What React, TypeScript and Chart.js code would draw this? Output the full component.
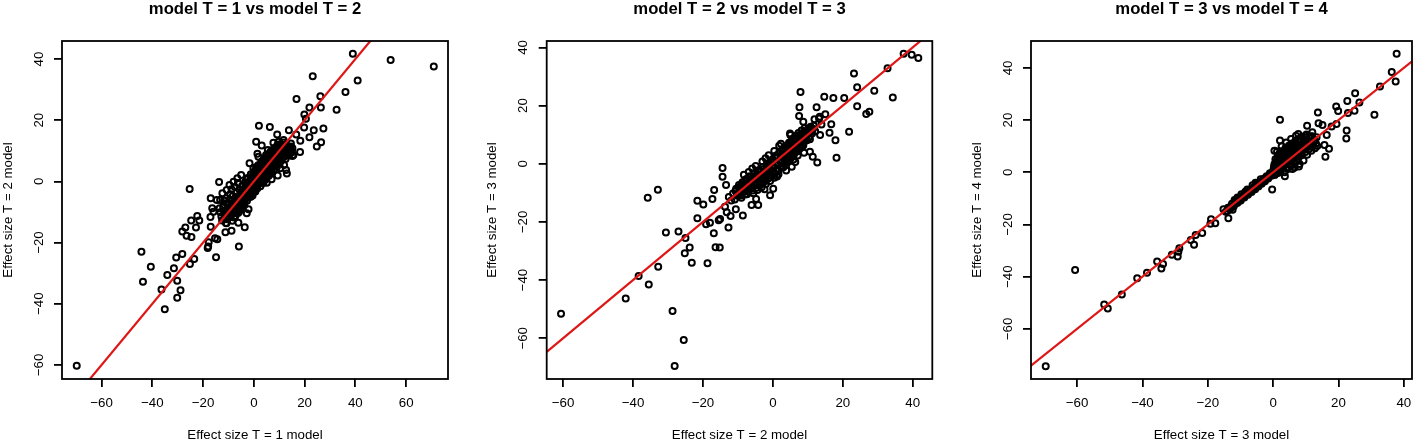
import React, { useEffect, useRef } from 'react';
import { Chart, registerables } from 'chart.js';

Chart.register(...registerables);

const FONT = '"Liberation Sans", Arial, Helvetica, sans-serif';
const RED = 'rgb(222, 22, 22)';

// ---------- Panel 1: T = 1 (x) vs T = 2 (y) ----------
const P1_POINTS: [number, number][] = [
  [-69.8, -60.3], [39.0, 41.7], [53.9, 39.7], [70.9, 37.6], [23.2, 34.4], [40.9, 33.0], [36.1, 29.2],
  [26.2, 27.8], [16.8, 26.9], [21.9, 24.2], [26.4, 24.2], [32.6, 23.4], [19.9, 21.9], [20.5, 20.5],
  [2.0, 18.2], [6.3, 17.8], [19.8, 17.6], [27.4, 17.3], [13.8, 16.7], [23.6, 16.7], [9.2, 15.3],
  [16.7, 15.3], [21.9, 14.4], [18.3, 13.3], [26.5, 12.8], [0.9, 13.0], [24.8, 11.4], [18.2, 9.6],
  [15.6, 8.6], [1.4, 9.0], [13.0, 2.6], [-13.7, -0.2], [-25.3, -2.5], [-17.0, -5.5], [-14.6, -6.1],
  [-16.4, -8.8], [-15.9, -9.9], [-22.3, -11.3], [-24.7, -12.8], [-21.5, -12.8], [-17.1, -11.6],
  [-27.0, -15.1], [-22.8, -15.1], [-28.2, -16.4], [-26.5, -17.8], [-24.6, -18.2], [-17.0, -14.8],
  [-15.3, -18.6], [-14.4, -18.9], [-17.8, -19.9], [-18.0, -21.3], [-5.9, -21.3], [-8.8, -16.1],
  [-11.2, -16.6], [-3.6, -15.0], [-6.1, -13.5], [-2.8, -10.4], [-10.8, -13.7], [-44.3, -23.0],
  [-43.7, -32.8], [-40.6, -27.9], [-36.4, -35.3], [-35.1, -41.8], [-34.1, -30.6], [-31.5, -28.4],
  [-30.6, -24.9], [-30.2, -32.5], [-30.2, -38.0], [-28.9, -35.6], [-28.2, -23.7], [-25.2, -27.0],
  [-23.5, -25.4], [-14.9, -24.8], [-18.2, -21.8],
  [3.1, 11.7], [5.5, 10.3], [7.7, 12.6], [9.7, 13.0], [11.7, 13.5], [14.6, 11.4], [15.2, 8.3],
  [12.7, 3.7], [9.4, 1.9], [5.1, -0.4], [2.5, 1.6], [-5.0, 2.1], [-6.5, 1.0], [-8.0, -0.1],
  [-9.6, -1.2], [-10.7, -2.8], [-12.4, -3.9], [-13.3, -6.1], [-10.0, -7.1], [-8.0, -8.3],
  [-7.0, -10.4], [-5.4, -9.1], [-2.1, -9.1], [-3.7, -6.8], [-1.2, -5.0], [-0.2, -3.4], [1.1, -1.7],
  [3.8, -0.4], [7.0, 0.7], [6.4, 3.7], [4.4, 5.4], [-0.2, 4.3], [-1.7, 5.9], [1.8, 8.1], [4.8, 8.6],
  [8.0, 9.0], [11.0, 8.1], [8.4, 6.4], [11.9, 5.4], [10.4, 4.3], [14.0, 9.7], [13.0, 11.4], [15.2, 10.8],
  [-13.2, -10.1], [-12.5, -12.8], [-12.1, -8.4], [-11.6, -10.9], [-11.0, -13.6], [-10.7, -7.2],
  [-10.3, -9.5], [-9.8, -11.8], [-9.6, -6.1], [-9.2, -8.3], [-8.9, -10.6], [-8.5, -12.9], [-8.3, -4.8],
  [-8.0, -7.0], [-7.6, -9.2], [-7.3, -11.4], [-7.1, -5.6], [-6.8, -3.5], [-6.5, -8.1], [-6.2, -10.3],
  [-6.0, -6.4], [-5.7, -2.7], [-5.4, -4.6], [-5.1, -8.9], [-4.9, -6.9], [-4.6, -1.4], [-4.3, -3.6],
  [-4.1, -5.5], [-3.8, -7.8], [-3.5, -0.3], [-3.3, -2.4], [-3.0, -4.5], [-2.7, -6.3], [-2.5, 1.1],
  [-2.2, -1.2], [-2.0, -3.3], [-1.7, -5.1], [-1.4, 0.4], [-1.2, 2.3], [-0.9, -1.9], [-0.6, -3.9],
  [-0.4, 1.5], [-0.1, -0.6], [0.2, 3.2], [0.4, -2.4], [0.7, 0.8], [0.9, 4.6], [1.2, -1.1], [1.5, 2.0],
  [1.7, 5.3], [2.0, 0.1], [2.3, 3.4], [2.6, -1.6], [2.8, 6.1], [3.1, 1.5], [3.4, 4.3], [3.6, -0.4],
  [3.9, 7.2], [4.2, 2.6], [4.4, 5.4], [4.7, 0.7], [5.0, 8.0], [5.2, 3.5], [5.5, 6.3], [5.8, 1.8],
  [6.1, 9.1], [6.3, 4.6], [6.6, 7.4], [6.9, 2.9], [7.2, 10.2], [7.4, 5.7], [7.7, 8.3], [8.0, 3.9],
  [8.3, 11.0], [8.5, 6.6], [8.8, 9.3], [9.1, 4.8], [9.4, 12.1], [9.6, 7.7], [9.9, 10.4], [10.2, 5.9],
  [10.5, 8.8], [10.8, 11.6], [11.0, 6.9], [11.3, 9.8], [11.6, 12.7], [11.9, 8.1], [12.2, 10.9],
  [12.5, 7.3], [12.8, 12.0], [13.1, 9.4], [13.4, 11.3], [13.8, 8.5], [14.2, 10.6], [14.6, 12.4],
  [15.0, 9.7], [-0.5, 0.9], [0.3, -0.2], [1.0, 1.7], [-1.8, -2.1], [2.5, 2.2], [-3.6, -3.1], [4.0, 3.7],
  [5.6, 5.1], [-5.6, -5.2], [6.9, 6.2], [-7.7, -7.9], [8.2, 7.5], [-9.0, -9.2], [9.7, 9.0], [11.2, 10.5],
  [-10.8, -11.3], [-2.9, 0.6], [3.3, 0.2],
  [-11.8, -9.6], [-11.2, -11.9], [-10.4, -12.4], [-9.9, -8.6], [-9.4, -10.2], [-8.7, -7.7], [-8.2, -9.6],
  [-7.8, -11.8], [-7.4, -6.3], [-6.9, -9.4], [-6.4, -5.1], [-6.1, -7.2], [-5.8, -9.9], [-5.3, -6.0],
  [-5.0, -3.6], [-4.7, -8.0], [-4.4, -4.9], [-4.0, -2.5], [-3.7, -5.9], [-3.4, -3.9], [-3.1, -1.5],
  [-2.8, -5.4], [-2.4, -3.0], [-2.1, -0.4], [-1.9, -4.3], [-1.5, -1.2], [-1.1, -2.8], [-0.8, 0.3],
  [-0.5, -4.6], [-0.3, 2.7], [0.0, -1.4], [0.3, 1.9], [0.6, -3.3], [0.8, 3.8], [1.1, 0.4], [1.4, -2.2],
  [1.6, 4.3], [1.9, 1.1], [2.2, -0.6], [2.4, 5.2], [2.7, 2.9], [3.0, 0.8], [3.2, 6.6], [3.5, 3.1],
  [3.8, 1.0], [4.1, 5.9], [4.3, 3.3], [4.6, 7.6], [4.9, 1.9], [5.1, 6.8], [5.4, 4.3], [5.7, 8.7],
  [6.0, 2.6], [6.2, 5.6], [6.5, 9.7], [6.8, 4.0], [7.1, 6.8], [7.3, 8.8], [7.6, 4.6], [7.9, 10.6],
  [8.1, 7.0], [8.4, 9.9], [8.7, 5.4], [9.0, 11.4], [9.3, 8.4], [9.5, 6.2], [9.8, 11.5], [10.1, 7.3],
  [10.4, 9.7], [10.7, 12.2], [10.9, 8.0], [11.4, 10.8], [11.8, 9.1], [12.0, 11.8], [12.4, 9.9],
  [12.9, 10.5], [13.5, 10.1], [14.0, 11.2], [14.4, 9.2], [-12.8, -11.5], [-13.5, -8.8], [-10.9, -5.5],
  [-9.3, -4.2], [-8.8, -2.6], [-7.5, -1.8], [-6.3, -0.5], [-11.7, -6.3],
];
const P1_X_LIMITS = [-75.6, 76.5];
const P1_Y_LIMITS = [-64.6, 45.9];
const P1_X_TICKS = [-60, -40, -20, 0, 20, 40, 60];
const P1_Y_TICKS = [-60, -40, -20, 0, 20, 40];

// ---------- Panel 2: T = 2 (x) vs T = 3 (y) ----------
const P2_POINTS: [number, number][] = [
  [-60.6, -51.6], [37.4, 37.8], [39.7, 37.5], [41.6, 36.4], [32.8, 32.8], [23.2, 31.0], [24.1, 26.3],
  [29.0, 25.1], [34.3, 22.8], [20.4, 22.6], [14.7, 23.0], [17.3, 22.6], [7.9, 24.7], [24.1, 19.8],
  [26.7, 17.1], [27.6, 17.9], [21.8, 11.0], [7.6, 19.4], [12.5, 19.4], [7.5, 16.4], [15.0, 17.0],
  [13.4, 16.2], [16.7, 13.6], [16.2, 10.7], [17.9, 8.1], [18.2, 2.1], [12.7, 0.4], [11.4, 2.4],
  [13.5, 9.9], [10.6, 4.1], [-14.4, -1.5], [-14.4, -4.5], [-32.9, -8.9], [-35.8, -11.7], [-16.8, -9.0],
  [-13.4, -7.3], [-21.6, -12.7], [-19.9, -14.0], [-17.3, -12.1], [-21.6, -18.7], [-19.1, -20.8],
  [-18.0, -20.3], [-15.5, -19.4], [-15.1, -19.0], [-13.7, -14.8], [-13.2, -16.7], [-10.6, -15.6],
  [-12.1, -18.0], [-8.6, -17.8], [-12.7, -21.9], [-30.6, -23.6], [-27.0, -23.3], [-25.0, -25.5],
  [-23.8, -28.8], [-25.2, -30.8], [-23.2, -34.0], [-16.9, -23.9], [-16.4, -28.7], [-15.2, -28.8],
  [-18.7, -34.2], [-32.8, -35.4], [-38.4, -38.6], [-35.5, -41.5], [-42.1, -46.3], [-28.7, -50.6],
  [-25.5, -60.6], [-28.1, -69.5], [-6.1, -14.2], [-4.2, -14.2], [-4.8, -12.1], [-0.8, -10.8],
  [0.1, -8.6], [-2.4, -8.8], [7.9, 9.1], [4.9, 10.4], [8.7, 14.4], [10.1, 12.1], [11.9, 15.3],
  [13.9, 13.5], [13.2, 15.6], [8.2, 5.8], [9.7, 8.1], [5.4, -1.0],
  [-11.4, -10.2], [-10.9, -12.3], [-10.5, -8.6], [-10.1, -11.0], [-9.7, -7.3], [-9.4, -9.6],
  [-9.0, -11.7], [-8.7, -6.4], [-8.3, -8.5], [-8.0, -10.6], [-7.6, -5.2], [-7.3, -7.4], [-7.0, -9.5],
  [-6.6, -4.3], [-6.3, -6.5], [-6.0, -8.4], [-5.6, -10.1], [-5.3, -3.2], [-5.0, -5.4], [-4.7, -7.3],
  [-4.4, -9.0], [-4.1, -2.2], [-3.8, -4.3], [-3.5, -6.2], [-3.2, -8.1], [-2.9, -1.1], [-2.6, -3.1],
  [-2.3, -5.2], [-2.0, -7.0], [-1.7, 0.1], [-1.4, -2.0], [-1.1, -4.1], [-0.8, -5.9], [-0.5, 1.2],
  [-0.2, -0.9], [0.1, -3.0], [0.4, -4.8], [0.7, 2.4], [1.0, 0.3], [1.3, -1.8], [1.6, -3.6], [1.9, 3.5],
  [2.2, 1.4], [2.5, -0.6], [2.8, 5.0], [3.1, 2.6], [3.4, 0.5], [3.7, 6.1], [4.0, 3.8], [4.3, 1.6],
  [4.6, 7.2], [4.9, 4.9], [5.2, 2.7], [5.5, 8.4], [5.8, 6.0], [6.1, 3.9], [6.4, 9.5], [6.7, 7.2],
  [7.0, 5.0], [7.3, 10.6], [7.6, 8.3], [7.9, 6.1], [8.2, 11.4], [8.5, 9.4], [8.8, 7.2], [9.1, 12.3],
  [9.4, 10.3], [9.7, 8.2], [10.0, 11.6], [10.4, 9.1], [10.8, 12.7], [11.2, 10.4], [11.7, 13.1],
  [12.1, 11.2], [0.0, 0.6], [-0.9, -1.4], [0.9, 1.9], [-2.4, -2.6], [2.6, 3.1], [-4.2, -4.0], [4.5, 4.2],
  [-6.1, -6.3], [6.2, 6.5], [-7.9, -8.0], [8.0, 8.6], [-9.5, -10.4], [9.6, 9.7], [3.0, -1.2], [5.9, 1.5],
  [-3.0, 0.8], [-5.9, -1.6], [1.8, 6.2], [-1.2, 2.9], [7.1, 2.8],
  [-10.7, -9.4], [-10.2, -10.6], [-9.8, -8.1], [-9.2, -10.9], [-8.9, -7.1], [-8.5, -9.8], [-8.1, -6.0],
  [-7.8, -8.9], [-7.4, -10.5], [-7.1, -6.6], [-6.8, -8.0], [-6.4, -5.4], [-6.1, -7.3], [-5.8, -9.2],
  [-5.4, -4.5], [-5.1, -6.6], [-4.8, -8.3], [-4.5, -3.4], [-4.2, -5.6], [-3.9, -7.3], [-3.6, -2.7],
  [-3.3, -4.9], [-3.0, -6.8], [-2.7, -1.9], [-2.4, -4.0], [-2.1, -5.9], [-1.8, -1.0], [-1.5, -3.2],
  [-1.2, -5.0], [-0.9, 0.2], [-0.6, -2.2], [-0.3, -4.0], [0.0, 1.5], [0.3, -1.2], [0.6, -3.4],
  [0.9, 2.8], [1.2, -0.2], [1.5, -2.4], [1.8, 3.9], [2.1, 0.8], [2.4, -1.3], [2.7, 4.6], [3.0, 1.9],
  [3.3, -0.1], [3.6, 5.4], [3.9, 3.0], [4.2, 0.9], [4.5, 6.5], [4.8, 4.1], [5.1, 2.0], [5.4, 7.4],
  [5.7, 5.3], [6.0, 3.1], [6.3, 8.6], [6.6, 6.3], [6.9, 4.2], [7.2, 9.7], [7.5, 7.4], [7.8, 5.3],
  [8.1, 10.3], [8.4, 8.2], [8.7, 6.3], [9.0, 11.0], [9.3, 9.0], [9.9, 10.7], [10.3, 12.0], [10.6, 8.4],
  [11.0, 11.3], [11.5, 12.0], [-6.9, -2.8], [-8.3, -3.8], [-4.9, -0.8], [-2.1, 1.9], [0.4, 4.4],
  [2.3, 6.9], [5.0, 9.9], [1.2, -4.4], [3.8, -2.3], [6.4, 0.6], [8.9, 3.8], [-11.9, -12.6], [-12.6, -11.4],
];
const P2_X_LIMITS = [-64.7, 45.6];
const P2_Y_LIMITS = [-74.0, 42.2];
const P2_X_TICKS = [-60, -40, -20, 0, 20, 40];
const P2_Y_TICKS = [-60, -40, -20, 0, 20, 40];

// ---------- Panel 3: T = 3 (x) vs T = 4 (y) ----------
const P3_POINTS: [number, number][] = [
  [-69.6, -74.3], [-60.6, -37.4], [-51.7, -50.7], [-50.6, -52.2], [-46.3, -46.8], [-41.6, -40.6],
  [-38.6, -38.5], [-35.5, -34.2], [-34.2, -36.9], [-33.7, -35.1], [-31.0, -31.6], [-29.2, -32.3],
  [-28.7, -29.1], [-29.0, -30.4], [-24.2, -27.8], [-23.7, -24.0], [-25.2, -25.9], [-21.7, -23.3],
  [-19.2, -19.7], [-19.0, -18.0], [-17.7, -19.5], [-15.2, -14.2], [-13.7, -17.6], [-12.4, -14.4],
  [-10.9, -9.7], [2.1, 20.1], [2.1, 12.2], [0.4, 8.3], [-0.3, -6.6], [13.7, 22.9], [19.3, 25.2],
  [19.9, 23.5], [22.7, 27.3], [25.1, 30.3], [26.4, 26.7], [22.9, 22.7], [24.9, 23.6], [31.0, 22.0],
  [32.7, 32.9], [36.3, 38.4], [37.8, 45.4], [37.5, 34.8], [22.5, 16.0], [22.4, 12.9], [19.4, 18.5],
  [17.9, 17.5], [16.0, 6.0], [17.1, 9.0], [16.4, 14.3], [13.9, 18.8], [15.1, 18.1], [10.4, 17.8],
  [9.9, 14.0], [7.7, 14.7], [15.7, 10.5], [13.5, 10.1], [11.7, 8.3], [7.9, 2.2], [5.9, 1.3], [3.4, 5.4],
  [11.9, 13.7],
  [-14.5, -15.1], [-13.8, -13.6], [-13.2, -14.2], [-12.6, -12.1], [-12.0, -12.9], [-11.5, -11.0],
  [-11.0, -11.8], [-10.4, -10.1], [-9.9, -10.8], [-9.3, -9.0], [-8.8, -9.7], [-8.2, -8.1], [-7.7, -8.6],
  [-7.1, -6.9], [-6.6, -7.6], [-6.0, -5.8], [-5.5, -6.5], [-5.0, -4.7], [-4.5, -5.4], [-4.0, -3.7],
  [-3.5, -4.4], [-3.0, -2.6], [-2.5, -3.4], [-2.0, -1.5], [-1.5, -2.4], [-1.0, -0.4], [-0.5, -1.3],
  [-14.0, -14.8], [-12.3, -13.2], [-10.7, -11.4], [-9.1, -9.6], [-7.4, -7.8], [-5.8, -6.2],
  [-4.2, -4.6], [-2.7, -2.9], [-1.2, -1.1], [-8.5, -7.5], [-6.3, -5.0], [-3.8, -2.7], [-11.8, -10.6],
  [0.0, 0.5], [0.3, 2.2], [0.5, -1.0], [0.8, 3.9], [1.0, 1.2], [1.3, 5.6], [1.5, -0.3], [1.8, 2.9],
  [2.0, 7.1], [2.3, 0.8], [2.5, 4.5], [2.8, 8.2], [3.0, 2.0], [3.3, 6.0], [3.5, 0.0], [3.8, 9.3],
  [4.0, 3.4], [4.3, 7.5], [4.5, 1.3], [4.8, 10.2], [5.0, 5.0], [5.3, 8.7], [5.5, 2.6], [5.8, 11.0],
  [6.0, 6.3], [6.3, 9.8], [6.5, 3.8], [6.8, 12.0], [7.0, 7.6], [7.3, 10.6], [7.5, 5.1], [7.8, 12.8],
  [8.0, 8.8], [8.3, 11.5], [8.5, 6.4], [8.8, 13.6], [9.0, 9.9], [9.3, 4.5], [9.6, 12.2], [9.9, 7.8],
  [10.2, 14.5], [10.5, 10.8], [10.8, 8.6], [11.2, 12.9], [11.6, 10.1], [12.0, 15.3], [12.4, 11.6],
  [12.8, 9.2], [13.3, 13.4], [0.6, 0.8], [1.9, 1.6], [3.2, 3.6], [4.6, 4.0], [6.1, 5.8], [7.4, 7.0],
  [8.7, 8.2], [2.2, 5.5], [4.1, 6.6], [5.9, 8.0], [3.6, -1.5], [6.6, 1.8], [8.1, 3.2],
  [-13.5, -14.0], [-12.9, -13.0], [-11.2, -11.5], [-10.1, -10.5], [-9.6, -9.3], [-8.0, -8.4],
  [-7.5, -7.2], [-6.8, -7.1], [-6.1, -6.6], [-5.2, -5.6], [-4.7, -4.3], [-3.3, -3.7], [-2.3, -2.1],
  [-1.8, -2.2], [-0.8, -0.9], [-0.2, -0.5], [-9.7, -8.4], [-10.9, -9.9], [-7.9, -6.6], [-5.4, -4.0],
  [0.2, 1.5], [0.4, 3.1], [0.7, 5.0], [0.9, -0.3], [1.1, 2.4], [1.4, 4.4], [1.6, 6.6], [1.7, 0.5],
  [2.1, 3.6], [2.4, 6.5], [2.6, 1.4], [2.9, 4.9], [3.1, 7.6], [3.4, 2.5], [3.7, 4.8], [3.9, 7.9],
  [4.2, 1.8], [4.4, 5.3], [4.7, 8.9], [4.9, 3.0], [5.1, 6.3], [5.4, 9.8], [5.6, 4.2], [5.9, 6.9],
  [6.2, 10.6], [6.4, 5.3], [6.7, 8.3], [6.9, 11.0], [7.2, 4.3], [7.6, 9.2], [7.9, 6.2], [8.2, 10.3],
  [8.4, 12.3], [8.6, 7.4], [8.9, 10.8], [9.2, 8.5], [9.5, 11.0], [9.8, 13.3], [10.1, 9.3], [10.4, 6.7],
  [10.6, 12.3], [10.9, 10.0], [11.3, 11.5], [11.8, 13.8], [12.2, 10.3], [12.6, 12.5], [13.1, 11.0],
  [1.2, 8.0], [2.6, 10.0], [4.0, 11.4], [5.5, 12.8], [7.0, 14.0],
];
const P3_X_LIMITS = [-74.1, 42.5];
const P3_Y_LIMITS = [-79.2, 50.3];
const P3_X_TICKS = [-60, -40, -20, 0, 20, 40];
const P3_Y_TICKS = [-60, -40, -20, 0, 20, 40];

const TITLES = ['model T = 1 vs model T = 2', 'model T = 2 vs model T = 3', 'model T = 3 vs model T = 4'];
const X_LABELS = ['Effect size T = 1 model', 'Effect size T = 2 model', 'Effect size T = 3 model'];
const Y_LABELS = ['Effect size T = 2 model', 'Effect size T = 3 model', 'Effect size T = 4 model'];

const fmt = (v: number) => (v < 0 ? '\u2212' + Math.abs(v) : String(v));

const boxPlugin = {
  id: 'rbox',
  afterDatasetsDraw(chart: any) {
    const { ctx, chartArea: a } = chart;
    ctx.save();
    ctx.strokeStyle = '#000';
    ctx.lineWidth = 1.8;
    ctx.strokeRect(a.left, a.top, a.right - a.left, a.bottom - a.top);
    ctx.restore();
  },
};

interface PanelProps {
  left: number;
  width: number;
  axisWidth: number;
  padRight: number;
  points: [number, number][];
  xLim: number[];
  yLim: number[];
  xTicks: number[];
  yTicks: number[];
  title: string;
  xLabel: string;
  yLabel: string;
}

function Panel(p: PanelProps) {
  const ref = useRef<HTMLCanvasElement>(null);
  useEffect(() => {
    const tickFont = { family: FONT, size: 13.3 };
    const grid = {
      display: true,
      drawOnChartArea: false,
      drawTicks: true,
      tickLength: 8,
      lineWidth: 1.8,
      tickWidth: 1.8,
      color: '#000',
      tickColor: '#000',
    };
    const chart = new Chart(ref.current as HTMLCanvasElement, {
      type: 'scatter',
      data: {
        datasets: [
          {
            type: 'line',
            data: [
              { x: p.xLim[0], y: p.xLim[0] },
              { x: p.xLim[1], y: p.xLim[1] },
            ],
            borderColor: RED,
            borderWidth: 2.2,
            pointRadius: 0,
            fill: false,
            order: 0,
          } as any,
          {
            type: 'scatter',
            data: p.points.map(([x, y]) => ({ x, y })),
            pointRadius: 3.0,
            pointBorderWidth: 2.0,
            pointBorderColor: '#000',
            pointBackgroundColor: 'rgba(0,0,0,0)',
            order: 1,
          } as any,
        ],
      },
      options: {
        responsive: false,
        animation: false,
        events: [],
        layout: { padding: { left: 0, right: p.padRight, top: 0, bottom: 0 } },
        plugins: {
          legend: { display: false },
          tooltip: { enabled: false },
          title: {
            display: true,
            text: p.title,
            fullSize: false,
            color: '#000',
            font: { family: FONT, size: 16.7, weight: 'bold', lineHeight: 1.15 },
            padding: { top: 0, bottom: 21.8 },
          },
        },
        scales: {
          x: {
            type: 'linear',
            position: 'bottom',
            min: p.xLim[0],
            max: p.xLim[1],
            afterBuildTicks: (s: any) => {
              s.ticks = p.xTicks.map((v) => ({ value: v }));
            },
            afterFit: (s: any) => {
              s.height = 65;
              s.paddingLeft = 0;
              s.paddingRight = 0;
              s.paddingTop = 0;
              s.paddingBottom = 0;
            },
            ticks: {
              autoSkip: false,
              maxRotation: 0,
              minRotation: 0,
              padding: 8.7,
              color: '#000',
              font: tickFont,
              callback: (v: any) => fmt(Number(v)),
            },
            grid,
            border: { display: false },
            title: {
              display: true,
              text: p.xLabel,
              color: '#000',
              font: tickFont,
              padding: { top: 0, bottom: 1.1 },
            },
          },
          y: {
            type: 'linear',
            position: 'left',
            min: p.yLim[0],
            max: p.yLim[1],
            afterBuildTicks: (s: any) => {
              s.ticks = p.yTicks.map((v) => ({ value: v }));
            },
            afterFit: (s: any) => {
              s.width = p.axisWidth;
              s.paddingLeft = 0;
              s.paddingRight = 0;
              s.paddingTop = 0;
              s.paddingBottom = 0;
            },
            ticks: {
              autoSkip: false,
              minRotation: 90,
              maxRotation: 90,
              crossAlign: 'center',
              padding: 3.8,
              color: '#000',
              font: tickFont,
              callback: (v: any) => fmt(Number(v)),
            },
            grid,
            border: { display: false },
            title: {
              display: true,
              text: p.yLabel,
              color: '#000',
              font: tickFont,
              padding: { top: 0, bottom: 0 },
            },
          },
        },
      } as any,
      plugins: [boxPlugin],
    });
    return () => chart.destroy();
  }, []);
  return (
    <canvas
      ref={ref}
      width={p.width}
      height={444}
      style={{ position: 'absolute', left: p.left, top: 0, width: p.width, height: 444 }}
    />
  );
}

export default function App() {
  return (
    <div style={{ position: 'absolute', left: 0, top: 0, width: 1418, height: 444, background: '#fff', overflow: 'hidden' }}>
      <Panel left={0} width={472} axisWidth={62} padRight={24} points={P1_POINTS} xLim={P1_X_LIMITS} yLim={P1_Y_LIMITS}
        xTicks={P1_X_TICKS} yTicks={P1_Y_TICKS} title={TITLES[0]} xLabel={X_LABELS[0]} yLabel={Y_LABELS[0]} />
      <Panel left={484} width={460} axisWidth={62.7} padRight={11.7} points={P2_POINTS} xLim={P2_X_LIMITS} yLim={P2_Y_LIMITS}
        xTicks={P2_X_TICKS} yTicks={P2_Y_TICKS} title={TITLES[1]} xLabel={X_LABELS[1]} yLabel={Y_LABELS[1]} />
      <Panel left={969} width={449} axisWidth={62} padRight={0} points={P3_POINTS} xLim={P3_X_LIMITS} yLim={P3_Y_LIMITS}
        xTicks={P3_X_TICKS} yTicks={P3_Y_TICKS} title={TITLES[2]} xLabel={X_LABELS[2]} yLabel={Y_LABELS[2]} />
    </div>
  );
}
